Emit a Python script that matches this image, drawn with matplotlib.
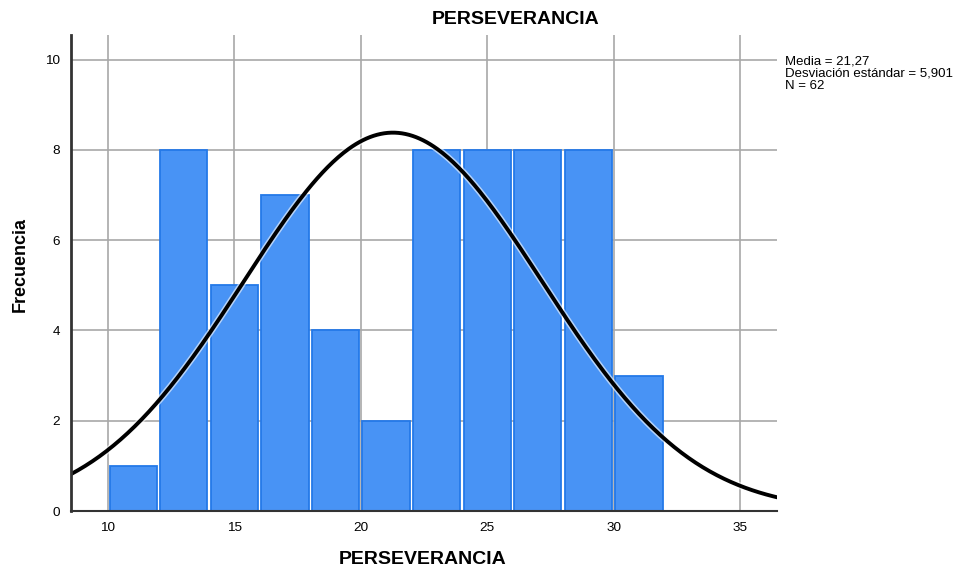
import numpy as np
import matplotlib
matplotlib.use('Agg')
import matplotlib.pyplot as plt
import matplotlib.patheffects as pe

plt.rcParams['font.family'] = ['Liberation Sans', 'DejaVu Sans']

bin_edges = [10, 12, 14, 16, 18, 20, 22, 24, 26, 28, 30]
counts = [1, 8, 5, 7, 4, 2, 8, 8, 8, 8, 3]
bin_width = 2
media = 21.27
desv = 5.901
n = 62
x_ticks = [10, 15, 20, 25, 30, 35]
y_ticks = [0, 2, 4, 6, 8, 10]

fig = plt.figure(figsize=(9.65, 5.71), dpi=100)
ax = fig.add_axes([0.0736, 0.105, 0.7316, 0.834])

ax.set_xlim(8.54, 36.46)
ax.set_ylim(0, 10.55)
ax.set_xticks(x_ticks)
ax.set_yticks(y_ticks)
ax.grid(True, color='#a8a8a8', linewidth=1.2, zorder=0)
ax.set_axisbelow(True)

# small white gap between neighbouring bars, darker blue rim
gap = 0.13
ax.bar([e + gap / 2 for e in bin_edges], counts, width=bin_width - gap, align='edge',
       color='#4893f5', edgecolor='#2479e8', linewidth=1.3, zorder=2)

xs = np.linspace(8.54, 36.46, 400)
ys = n * bin_width / (desv * np.sqrt(2 * np.pi)) * np.exp(-0.5 * ((xs - media) / desv) ** 2)
ax.plot(xs, ys, color='black', linewidth=2.8, zorder=4,
        path_effects=[pe.Stroke(linewidth=5, foreground='white', alpha=0.6), pe.Normal()])

for s in ['top', 'right']:
    ax.spines[s].set_visible(False)
ax.spines['left'].set_linewidth(2)
ax.spines['left'].set_color('#333333')
ax.spines['bottom'].set_linewidth(1.5)
ax.spines['bottom'].set_color('#333333')
ax.spines['left'].set_zorder(5)
ax.spines['bottom'].set_zorder(5)
ax.tick_params(length=0, labelsize=9.7, pad=8)

fig.text(0.534, 0.965, 'PERSEVERANCIA', ha='center', va='center', fontsize=14, fontweight='bold')
fig.text(0.438, 0.02, 'PERSEVERANCIA', ha='center', va='center', fontsize=14, fontweight='bold')
fig.text(0.021, 0.536, 'Frecuencia', ha='center', va='center', rotation=90, fontsize=13, fontweight='bold')
fig.text(0.813, 0.902, 'Media = 21,27\nDesviación estándar = 5,901\nN = 62',
         ha='left', va='top', fontsize=9.5, linespacing=1.0)

fig.savefig('out.png', dpi=100)
